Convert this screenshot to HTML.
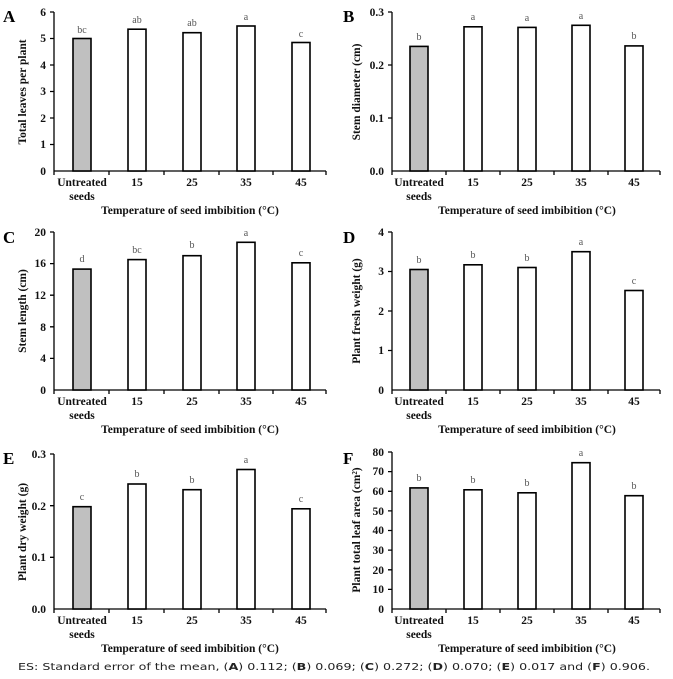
<!DOCTYPE html><html><head><meta charset="utf-8"><style>
body{margin:0;background:#fff}
svg{display:block}
.t{font-family:"Liberation Serif",serif;font-weight:bold;font-size:11.5px;fill:#111}
.l{font-family:"Liberation Serif",serif;font-size:10px;fill:#555}
.p{font-family:"Liberation Serif",serif;font-weight:bold;font-size:17px;fill:#000}
.b{fill:#fff;stroke:#000;stroke-width:1.6}
.g{fill:#c0c0c0;stroke:#000;stroke-width:1.6}
.ax{stroke:#000;stroke-width:1.3;fill:none}
.f{font-family:"DejaVu Sans",sans-serif;font-size:9.5px;fill:#222}
</style></head><body>
<svg width="673" height="679" viewBox="0 0 673 679" xmlns="http://www.w3.org/2000/svg">
<!-- Panel A -->
<text class="p" x="3" y="22">A</text>
<path class="ax" d="M54 12V171H326M50 12H54M50 38.5H54M50 65H54M50 91.5H54M50 118H54M50 144.5H54M54 171v4M109 171v4M164 171v4M219 171v4M273 171v4M326 171v4"/>
<g class="t" text-anchor="end"><text x="46" y="16">6</text><text x="46" y="42">5</text><text x="46" y="69">4</text><text x="46" y="95">3</text><text x="46" y="122">2</text><text x="46" y="148">1</text><text x="46" y="175">0</text></g>
<rect class="g" x="73" y="38.5" width="18" height="132.5"/><rect class="b" x="128" y="29.2" width="18" height="141.8"/><rect class="b" x="183" y="32.7" width="18" height="138.3"/><rect class="b" x="237" y="26" width="18" height="145"/><rect class="b" x="292" y="42.5" width="18" height="128.5"/>
<g class="l" text-anchor="middle"><text x="82" y="33">bc</text><text x="137" y="23">ab</text><text x="192" y="26">ab</text><text x="246" y="20">a</text><text x="301" y="37">c</text></g>
<g class="t" text-anchor="middle"><text x="82" y="186">Untreated</text><text x="82" y="200">seeds</text><text x="137" y="186">15</text><text x="192" y="186">25</text><text x="246" y="186">35</text><text x="301" y="186">45</text><text x="190" y="214">Temperature of seed imbibition (°C)</text></g>
<text class="t" transform="translate(26,92) rotate(-90)" text-anchor="middle">Total leaves per plant</text>
<!-- Panel B -->
<text class="p" x="343" y="22">B</text>
<path class="ax" d="M392 12V171H660M388 12H392M388 65H392M388 118H392M392 171v4M446 171v4M500 171v4M554 171v4M608 171v4M660 171v4"/>
<g class="t" text-anchor="end"><text x="384" y="16">0.3</text><text x="384" y="69">0.2</text><text x="384" y="122">0.1</text><text x="384" y="175">0.0</text></g>
<rect class="g" x="410" y="46.4" width="18" height="124.6"/><rect class="b" x="464" y="26.8" width="18" height="144.2"/><rect class="b" x="518" y="27.4" width="18" height="143.6"/><rect class="b" x="572" y="25.3" width="18" height="145.7"/><rect class="b" x="625" y="45.9" width="18" height="125.1"/>
<g class="l" text-anchor="middle"><text x="419" y="40">b</text><text x="473" y="20">a</text><text x="527" y="21">a</text><text x="581" y="19">a</text><text x="634" y="39">b</text></g>
<g class="t" text-anchor="middle"><text x="419" y="186">Untreated</text><text x="419" y="200">seeds</text><text x="473" y="186">15</text><text x="527" y="186">25</text><text x="581" y="186">35</text><text x="634" y="186">45</text><text x="527" y="214">Temperature of seed imbibition (°C)</text></g>
<text class="t" transform="translate(360,92) rotate(-90)" text-anchor="middle">Stem diameter (cm)</text>
<!-- Panel C -->
<text class="p" x="3" y="243">C</text>
<path class="ax" d="M54 232V390H326M50 232H54M50 263.6H54M50 295.2H54M50 326.8H54M50 358.4H54M54 390v4M109 390v4M164 390v4M219 390v4M273 390v4M326 390v4"/>
<g class="t" text-anchor="end"><text x="46" y="236">20</text><text x="46" y="267">16</text><text x="46" y="299">12</text><text x="46" y="331">8</text><text x="46" y="362">4</text><text x="46" y="394">0</text></g>
<rect class="g" x="73" y="269.1" width="18" height="120.9"/><rect class="b" x="128" y="259.6" width="18" height="130.4"/><rect class="b" x="183" y="255.7" width="18" height="134.3"/><rect class="b" x="237" y="242.3" width="18" height="147.7"/><rect class="b" x="292" y="262.8" width="18" height="127.2"/>
<g class="l" text-anchor="middle"><text x="82" y="262">d</text><text x="137" y="253">bc</text><text x="192" y="248">b</text><text x="246" y="236">a</text><text x="301" y="256">c</text></g>
<g class="t" text-anchor="middle"><text x="82" y="405">Untreated</text><text x="82" y="419">seeds</text><text x="137" y="405">15</text><text x="192" y="405">25</text><text x="246" y="405">35</text><text x="301" y="405">45</text><text x="190" y="433">Temperature of seed imbibition (°C)</text></g>
<text class="t" transform="translate(26,311) rotate(-90)" text-anchor="middle">Stem length (cm)</text>
<!-- Panel D -->
<text class="p" x="343" y="243">D</text>
<path class="ax" d="M392 232V390H660M388 232H392M388 271.5H392M388 311H392M388 350.5H392M392 390v4M446 390v4M500 390v4M554 390v4M608 390v4M660 390v4"/>
<g class="t" text-anchor="end"><text x="384" y="236">4</text><text x="384" y="275">3</text><text x="384" y="315">2</text><text x="384" y="354">1</text><text x="384" y="394">0</text></g>
<rect class="g" x="410" y="269.5" width="18" height="120.5"/><rect class="b" x="464" y="264.8" width="18" height="125.2"/><rect class="b" x="518" y="267.5" width="18" height="122.5"/><rect class="b" x="572" y="251.7" width="18" height="138.3"/><rect class="b" x="625" y="290.5" width="18" height="99.5"/>
<g class="l" text-anchor="middle"><text x="419" y="263">b</text><text x="473" y="258">b</text><text x="527" y="261">b</text><text x="581" y="245">a</text><text x="634" y="284">c</text></g>
<g class="t" text-anchor="middle"><text x="419" y="405">Untreated</text><text x="419" y="419">seeds</text><text x="473" y="405">15</text><text x="527" y="405">25</text><text x="581" y="405">35</text><text x="634" y="405">45</text><text x="527" y="433">Temperature of seed imbibition (°C)</text></g>
<text class="t" transform="translate(360,311) rotate(-90)" text-anchor="middle">Plant fresh weight (g)</text>
<!-- Panel E -->
<text class="p" x="3" y="464">E</text>
<path class="ax" d="M54 454V609H326M50 454H54M50 505.7H54M50 557.3H54M54 609v4M109 609v4M164 609v4M219 609v4M273 609v4M326 609v4"/>
<g class="t" text-anchor="end"><text x="46" y="458">0.3</text><text x="46" y="510">0.2</text><text x="46" y="561">0.1</text><text x="46" y="613">0.0</text></g>
<rect class="g" x="73" y="506.7" width="18" height="102.3"/><rect class="b" x="128" y="484" width="18" height="125"/><rect class="b" x="183" y="489.7" width="18" height="119.3"/><rect class="b" x="237" y="469.5" width="18" height="139.5"/><rect class="b" x="292" y="508.8" width="18" height="100.2"/>
<g class="l" text-anchor="middle"><text x="82" y="500">c</text><text x="137" y="477">b</text><text x="192" y="483">b</text><text x="246" y="463">a</text><text x="301" y="502">c</text></g>
<g class="t" text-anchor="middle"><text x="82" y="624">Untreated</text><text x="82" y="638">seeds</text><text x="137" y="624">15</text><text x="192" y="624">25</text><text x="246" y="624">35</text><text x="301" y="624">45</text><text x="190" y="652">Temperature of seed imbibition (°C)</text></g>
<text class="t" transform="translate(26,532) rotate(-90)" text-anchor="middle">Plant dry weight (g)</text>
<!-- Panel F -->
<text class="p" x="343" y="464">F</text>
<path class="ax" d="M392 452V609H660M388 452H392M388 471.6H392M388 491.3H392M388 510.9H392M388 530.5H392M388 550.1H392M388 569.8H392M388 589.4H392M392 609v4M446 609v4M500 609v4M554 609v4M608 609v4M660 609v4"/>
<g class="t" text-anchor="end"><text x="384" y="456">80</text><text x="384" y="475">70</text><text x="384" y="495">60</text><text x="384" y="515">50</text><text x="384" y="534">40</text><text x="384" y="554">30</text><text x="384" y="574">20</text><text x="384" y="593">10</text><text x="384" y="613">0</text></g>
<rect class="g" x="410" y="487.9" width="18" height="121.1"/><rect class="b" x="464" y="489.8" width="18" height="119.2"/><rect class="b" x="518" y="492.8" width="18" height="116.2"/><rect class="b" x="572" y="462.7" width="18" height="146.3"/><rect class="b" x="625" y="495.7" width="18" height="113.3"/>
<g class="l" text-anchor="middle"><text x="419" y="481">b</text><text x="473" y="483">b</text><text x="527" y="486">b</text><text x="581" y="456">a</text><text x="634" y="489">b</text></g>
<g class="t" text-anchor="middle"><text x="419" y="624">Untreated</text><text x="419" y="638">seeds</text><text x="473" y="624">15</text><text x="527" y="624">25</text><text x="581" y="624">35</text><text x="634" y="624">45</text><text x="527" y="652">Temperature of seed imbibition (°C)</text></g>
<text class="t" transform="translate(360,530) rotate(-90)" text-anchor="middle">Plant total leaf area (cm²)</text>
<!-- footnote -->
<text class="f" x="18" y="670" textLength="632" lengthAdjust="spacingAndGlyphs">ES: Standard error of the mean, (<tspan font-weight="bold">A</tspan>) 0.112; (<tspan font-weight="bold">B</tspan>) 0.069; (<tspan font-weight="bold">C</tspan>) 0.272; (<tspan font-weight="bold">D</tspan>) 0.070; (<tspan font-weight="bold">E</tspan>) 0.017 and (<tspan font-weight="bold">F</tspan>) 0.906.</text>
</svg>
</body></html>
